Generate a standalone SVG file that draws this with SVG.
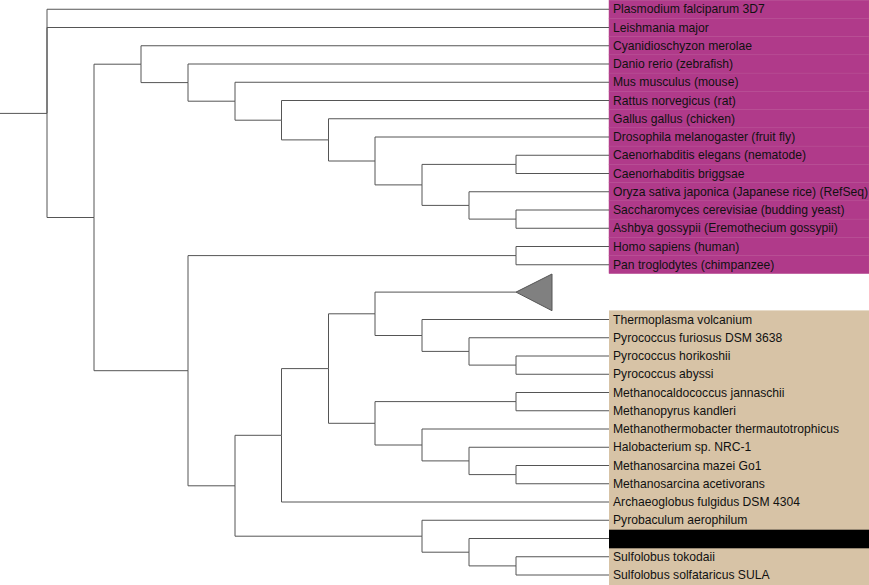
<svg xmlns="http://www.w3.org/2000/svg" width="869" height="585" viewBox="0 0 869 585">
<style>
.e{fill:none;stroke:#555;stroke-width:1}
.t{font-family:"Liberation Sans",Arial,sans-serif;font-size:12.15px;fill:#111}
.pu{fill:#b03a8a;stroke:#b6488f;stroke-width:0.5}
.ta{fill:#d7c3a6}
</style>
<rect width="869" height="585" fill="#fff"/>
<g id="euk-bg">
<rect class="pu" x="609" y="0.1" width="260" height="18.25"/>
<rect class="pu" x="609" y="18.35" width="260" height="18.25"/>
<rect class="pu" x="609" y="36.6" width="260" height="18.25"/>
<rect class="pu" x="609" y="54.85" width="260" height="18.25"/>
<rect class="pu" x="609" y="73.1" width="260" height="18.25"/>
<rect class="pu" x="609" y="91.35" width="260" height="18.25"/>
<rect class="pu" x="609" y="109.6" width="260" height="18.25"/>
<rect class="pu" x="609" y="127.85" width="260" height="18.25"/>
<rect class="pu" x="609" y="146.1" width="260" height="18.25"/>
<rect class="pu" x="609" y="164.35" width="260" height="18.25"/>
<rect class="pu" x="609" y="182.6" width="260" height="18.25"/>
<rect class="pu" x="609" y="200.85" width="260" height="18.25"/>
<rect class="pu" x="609" y="219.1" width="260" height="18.25"/>
<rect class="pu" x="609" y="237.35" width="260" height="18.25"/>
<rect class="pu" x="609" y="255.6" width="260" height="18"/>
</g>
<rect id="arc-bg" class="ta" x="609" y="310.4" width="260" height="274.6"/>
<g id="connectors">
<path class="e" d="M0 113.4H47"/>
<path class="e" d="M47 113.4V9.25H609M47 113.4V27.5H609M47 113.4V217.5H94"/>
<path class="e" d="M94 217.5V64.2H141M94 217.5V370.7H188"/>
<path class="e" d="M141 64.2V45.75H609M141 64.2V82.6H188"/>
<path class="e" d="M188 82.6V64H609M188 82.6V101.2H235"/>
<path class="e" d="M235 101.2V82.25H609M235 101.2V120.2H281.5"/>
<path class="e" d="M281.5 120.2V100.5H609M281.5 120.2V139.9H328.5"/>
<path class="e" d="M328.5 139.9V118.75H609M328.5 139.9V161H375"/>
<path class="e" d="M375 161V137H609M375 161V184.9H422"/>
<path class="e" d="M422 184.9V164.4H516M422 184.9V205.4H469"/>
<path class="e" d="M516 164.4V155.25H609M516 164.4V173.5H609"/>
<path class="e" d="M469 205.4V191.75H609M469 205.4V219.1H516"/>
<path class="e" d="M516 219.1V210H609M516 219.1V228.25H609"/>
<path class="e" d="M188 370.7V255.6H516M188 370.7V485.8H235"/>
<path class="e" d="M516 255.6V246.5H609M516 255.6V264.75H609"/>
<path class="e" d="M235 485.8V435.3H281.5M235 485.8V536.2H422"/>
<path class="e" d="M281.5 435.3V368.6H328.5M281.5 435.3V502H609"/>
<path class="e" d="M328.5 368.6V313.8H375M328.5 368.6V423.3H375"/>
<path class="e" d="M375 313.8V292.1H516M375 313.8V335.5H422"/>
<path class="e" d="M422 335.5V319.5H609M422 335.5V351.4H469"/>
<path class="e" d="M469 351.4V337.75H609M469 351.4V365.1H516"/>
<path class="e" d="M516 365.1V356H609M516 365.1V374.25H609"/>
<path class="e" d="M375 423.3V401.6H516M375 423.3V445H422"/>
<path class="e" d="M516 401.6V392.5H609M516 401.6V410.75H609"/>
<path class="e" d="M422 445V429H609M422 445V460.9H469"/>
<path class="e" d="M469 460.9V447.25H609M469 460.9V474.6H516"/>
<path class="e" d="M516 474.6V465.5H609M516 474.6V483.75H609"/>
<path class="e" d="M422 536.2V520.25H609M422 536.2V552.2H469"/>
<path class="e" d="M469 552.2V538.5H609M469 552.2V565.9H516"/>
<path class="e" d="M516 565.9V556.75H609M516 565.9V575H609"/>
</g>
<g id="collapsed-clade">
<polygon points="516,292.1 552,274 552,310.7" fill="#808080" stroke="#555" stroke-width="1"/>
</g>
<g id="leaf-plasmodium"><text class="t" x="613" y="13.4">Plasmodium falciparum 3D7</text></g>
<g id="leaf-leishmania"><text class="t" x="613" y="31.7">Leishmania major</text></g>
<g id="leaf-cyanidioschyzon"><text class="t" x="613" y="49.9">Cyanidioschyzon merolae</text></g>
<g id="leaf-danio"><text class="t" x="613" y="68.2">Danio rerio (zebrafish)</text></g>
<g id="leaf-mus"><text class="t" x="613" y="86.4">Mus musculus (mouse)</text></g>
<g id="leaf-rattus"><text class="t" x="613" y="104.7">Rattus norvegicus (rat)</text></g>
<g id="leaf-gallus"><text class="t" x="613" y="122.9">Gallus gallus (chicken)</text></g>
<g id="leaf-drosophila"><text class="t" x="613" y="141.2">Drosophila melanogaster (fruit fly)</text></g>
<g id="leaf-celegans"><text class="t" x="613" y="159.4">Caenorhabditis elegans (nematode)</text></g>
<g id="leaf-cbriggsae"><text class="t" x="613" y="177.7">Caenorhabditis briggsae</text></g>
<g id="leaf-oryza"><text class="t" x="613" y="195.9">Oryza sativa japonica (Japanese rice) (RefSeq)</text></g>
<g id="leaf-saccharomyces"><text class="t" x="613" y="214.2">Saccharomyces cerevisiae (budding yeast)</text></g>
<g id="leaf-ashbya"><text class="t" x="613" y="232.4">Ashbya gossypii (Eremothecium gossypii)</text></g>
<g id="leaf-homo"><text class="t" x="613" y="250.7">Homo sapiens (human)</text></g>
<g id="leaf-pan"><text class="t" x="613" y="268.9">Pan troglodytes (chimpanzee)</text></g>
<g id="leaf-thermoplasma"><text class="t" x="613" y="323.7">Thermoplasma volcanium</text></g>
<g id="leaf-pfuriosus"><text class="t" x="613" y="341.9">Pyrococcus furiosus DSM 3638</text></g>
<g id="leaf-phorikoshii"><text class="t" x="613" y="360.2">Pyrococcus horikoshii</text></g>
<g id="leaf-pabyssi"><text class="t" x="613" y="378.4">Pyrococcus abyssi</text></g>
<g id="leaf-methanocaldococcus"><text class="t" x="613" y="396.7">Methanocaldococcus jannaschii</text></g>
<g id="leaf-methanopyrus"><text class="t" x="613" y="414.9">Methanopyrus kandleri</text></g>
<g id="leaf-methanothermobacter"><text class="t" x="613" y="433.2">Methanothermobacter thermautotrophicus</text></g>
<g id="leaf-halobacterium"><text class="t" x="613" y="451.4">Halobacterium sp. NRC-1</text></g>
<g id="leaf-mmazei"><text class="t" x="613" y="469.7">Methanosarcina mazei Go1</text></g>
<g id="leaf-macetivorans"><text class="t" x="613" y="487.9">Methanosarcina acetivorans</text></g>
<g id="leaf-archaeoglobus"><text class="t" x="613" y="506.2">Archaeoglobus fulgidus DSM 4304</text></g>
<g id="leaf-pyrobaculum"><text class="t" x="613" y="524.4">Pyrobaculum aerophilum</text></g>
<g id="leaf-hidden"><rect x="609" y="529.7" width="260" height="18.6" fill="#000"/></g>
<g id="leaf-stokodaii"><text class="t" x="613" y="560.9">Sulfolobus tokodaii</text></g>
<g id="leaf-ssolfataricus"><text class="t" x="613" y="579.2">Sulfolobus solfataricus SULA</text></g>
</svg>
